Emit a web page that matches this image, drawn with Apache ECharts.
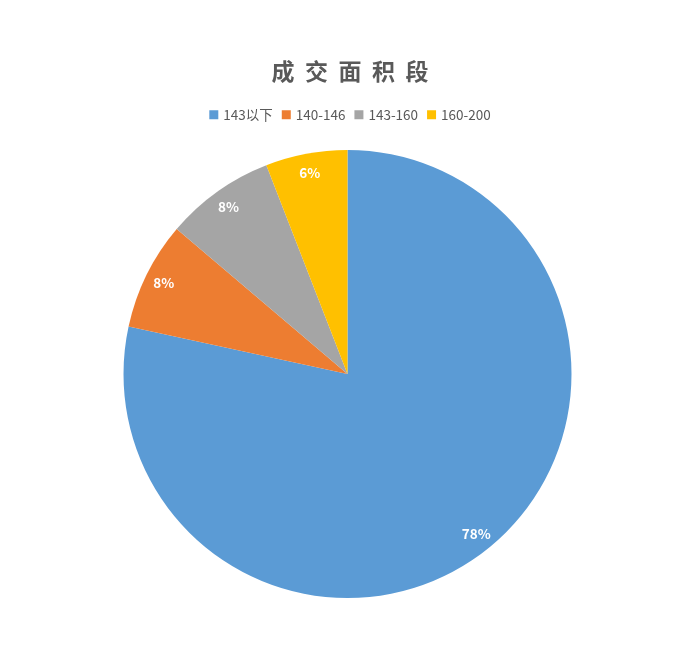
<!DOCTYPE html>
<html>
<head>
<meta charset="utf-8">
<script src="https://cdn.jsdelivr.net/npm/echarts@6/dist/echarts.min.js"></script>
<style>
html,body{margin:0;padding:0;background:#fff;}
#c{width:700px;height:648px;}
</style>
</head>
<body>
<div id="c"></div>
<script>
const categories = ['143以下', '140-146', '143-160', '160-200'];
const values = [78.4, 7.8, 7.9, 5.9];
const colors = ['#5B9BD5', '#ED7D31', '#A5A5A5', '#FFC000'];
const titleText = '成交面积段';

const data = categories.map((n, i) => ({ name: n, value: values[i], itemStyle: { color: colors[i] } }));
const font = '"Noto Sans CJK SC", "Noto Sans", sans-serif';

const chart = echarts.init(document.getElementById('c'));
chart.setOption({
  animation: false,
  backgroundColor: '#fff',
  title: {
    text: titleText.split('').join('  '),
    left: 'center',
    top: 55,
    textStyle: { fontFamily: font, fontSize: 23, fontWeight: 'bold', color: '#595959' }
  },
  legend: {
    data: categories,
    left: 'center',
    top: 103,
    icon: 'rect',
    itemWidth: 9,
    itemHeight: 9,
    itemGap: 9,
    textStyle: { fontFamily: font, fontSize: 13.5, color: '#595959', padding: [0, 0, 0, 0] }
  },
  series: [
    {
      type: 'pie',
      center: [347.5, 374],
      radius: [0, 224],
      startAngle: 90,
      clockwise: true,
      data: data,
      label: { show: false },
      labelLine: { show: false },
      emphasis: { disabled: true },
      itemStyle: { borderWidth: 0 }
    },
    {
      type: 'pie',
      center: [347.5, 374],
      radius: [180, 224],
      startAngle: 90,
      clockwise: true,
      silent: true,
      data: data.map(d => ({ name: d.name, value: d.value, itemStyle: { color: 'rgba(0,0,0,0)' } })),
      label: {
        show: true,
        position: 'inside',
        formatter: p => Math.round(p.percent) + '%',
        fontFamily: font,
        fontSize: 13.5,
        fontWeight: 'bold',
        color: '#ffffff'
      },
      labelLine: { show: false },
      emphasis: { disabled: true }
    }
  ]
});
</script>
</body>
</html>
